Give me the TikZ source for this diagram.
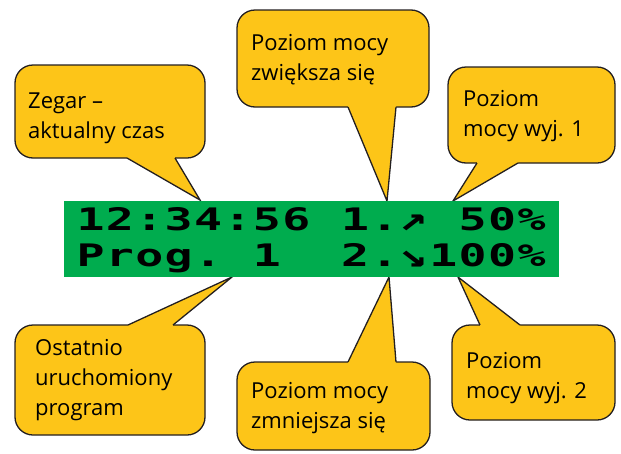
\documentclass[tikz,border=0pt]{standalone}
\usepackage{fontspec}
\setmainfont{Open Sans}
\newfontfamily\lcdfont{DejaVu Sans Mono}[BoldFont={* Bold}]
\usetikzlibrary{calc}
\definecolor{bubyellow}{RGB}{253,197,24}
\definecolor{bubline}{RGB}{35,31,32}
\definecolor{lcdgreen}{RGB}{0,172,78}
\newcommand\bubtail[5]{%
  \fill[bubyellow] ([xshift=#2pt,yshift=#5pt]#1) -- ([xshift=#2pt]#1) -- (#4) -- ([xshift=#3pt]#1) -- ([xshift=#3pt,yshift=#5pt]#1) -- cycle;
  \draw[tailline] ([xshift=#2pt]#1) -- (#4) -- ([xshift=#3pt]#1);}
\tikzset{
  bub/.style={draw=bubline, fill=bubyellow, line width=1.3pt, rounded corners=18pt,
    inner sep=0pt, outer sep=0pt, rectangle},
  tailline/.style={draw=bubline, line width=1.3pt, line join=miter},
  btxt/.style={anchor=base west, inner sep=0pt, align=left,
    font=\fontsize{22}{30}\selectfont, text=black},
  lcd/.style={fill=lcdgreen, inner sep=0pt, outer sep=0pt, rectangle},
  lcdch/.style={anchor=base, inner sep=0pt, xscale=1.5,
    font=\lcdfont\bfseries\fontsize{31}{31}\selectfont, text=black},
  lcdarr/.style={anchor=base, inner sep=0pt, xscale=1.5, yscale=1.15,
    font=\lcdfont\bfseries\fontsize{31}{31}\selectfont, text=black}
}
\begin{document}
\begin{tikzpicture}[x=1pt,y=-1pt]
\useasboundingbox (0,0) rectangle (621,453);
% bubbles
\node[bub, minimum width=190pt, minimum height=93pt] (b1) at (110,111.5) {};
\node[bub, minimum width=192pt, minimum height=97pt] (b2) at (333,58.5) {};
\node[bub, minimum width=167pt, minimum height=96pt] (b3) at (531.5,115) {};
\node[bub, minimum width=190pt, minimum height=110pt] (b4) at (110,380) {};
\node[bub, minimum width=193pt, minimum height=88pt] (b5) at (333.5,406) {};
\node[bub, minimum width=163pt, minimum height=95pt] (b6) at (533.5,372.5) {};
% tips
\coordinate (t1) at (200,200);
\coordinate (t2) at (387,201);
\coordinate (t3) at (453,201);
\coordinate (t4) at (232,277);
\coordinate (t5) at (389,277);
\coordinate (t6) at (458,277);
\bubtail{b1.south}{17}{65}{t1}{2}
\bubtail{b2.south}{15}{63}{t2}{2}
\bubtail{b3.south}{-54.5}{-13.5}{t3}{2}
\bubtail{b4.north}{18}{63}{t4}{-2}
\bubtail{b5.north}{14.5}{62.5}{t5}{-2}
\bubtail{b6.north}{-53.5}{-13.5}{t6}{-2}
% texts (anchor = baseline of last line)
\node[btxt] (b1t) at (28,138) {Zegar –\\aktualny czas};
\node[btxt] (b2t) at (251,80) {Poziom mocy\\zwiększa się};
\node[btxt] (b3t) at (463,136) {Poziom\\mocy wyj. 1};
\node[btxt] (b4t) at (35,415) {Ostatnio\\uruchomiony\\program};
\node[btxt] (b5t) at (251,428) {Poziom mocy\\zmniejsza się};
\node[btxt] (b6t) at (466,398) {Poziom\\mocy wyj. 2};
% LCD
\node[lcd, minimum width=495pt, minimum height=76pt] (lcd) at (311.5,239) {};
\foreach \i/\c in {0/1,1/2,2/:,3/3,4/4,5/:,6/5,7/6,9/1,10/.,13/5,14/0,15/\%}
  \node[lcdch] (la\i) at (90.5+29.4*\i,230) {\c};
\node[lcdarr] (la11) at (90.5+29.4*11,230) {↗};
\foreach \i/\c in {0/P,1/r,2/o,3/g,4/.,6/1,9/2,10/.,12/1,13/0,14/0,15/\%}
  \node[lcdch] (lb\i) at (90.5+29.4*\i,266) {\c};
\node[lcdarr] (lb11) at (90.5+29.4*11,266) {↘};
\end{tikzpicture}
\end{document}
